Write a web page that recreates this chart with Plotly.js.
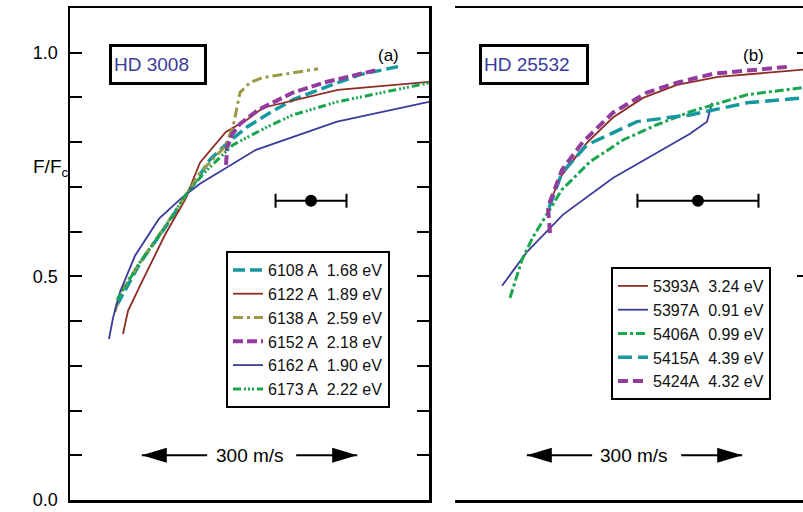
<!DOCTYPE html>
<html>
<head>
<meta charset="utf-8">
<script src="https://cdn.plot.ly/plotly-3.0.1.min.js"></script>
<style>html,body{margin:0;padding:0;background:#fff;}#chart{width:803px;height:512px;}</style>
</head>
<body>
<div id="chart"></div>
<script>
// ---- Panel (a): HD 3008 — velocity (m/s) vs F/Fc ----
const labelsA = ["6108 A\u00a0\u00a01.68 eV","6122 A\u00a0\u00a01.89 eV","6138 A\u00a0\u00a02.59 eV","6152 A\u00a0\u00a02.18 eV","6162 A\u00a0\u00a01.90 eV","6173 A\u00a0\u00a02.22 eV"];
const v6108 = [65.5, 97.5, 132.3, 157.4, 195, 220, 246.5, 278.6, 310.6, 358, 404, 456.8];
const f6108 = [0.436, 0.530, 0.609, 0.671, 0.761, 0.799, 0.834, 0.866, 0.895, 0.924, 0.951, 0.969];
const v6122 = [73.8, 80.8, 100.3, 132.3, 160.2, 181, 217, 246.5, 268.8, 373, 500];
const f6122 = [0.371, 0.423, 0.488, 0.593, 0.671, 0.754, 0.823, 0.850, 0.877, 0.917, 0.935];
const v6138 = [62.7, 69.6, 93.3, 125.4, 157.4, 181, 215.9, 227, 236.8, 250.7, 267.4, 345.4];
const f6138 = [0.421, 0.463, 0.521, 0.597, 0.671, 0.732, 0.790, 0.834, 0.911, 0.933, 0.944, 0.964];
const v6152 = [217.3, 218.7, 225.6, 236.8, 261.9, 310.6, 358, 417.8, 429];
const f6152 = [0.749, 0.787, 0.817, 0.841, 0.872, 0.911, 0.935, 0.957, 0.962];
const v6162 = [54.3, 59.9, 69.6, 90.5, 124, 156, 181, 259, 372, 500];
const f6162 = [0.360, 0.407, 0.465, 0.546, 0.629, 0.676, 0.707, 0.783, 0.846, 0.890];
const v6173 = [65.5, 97.5, 132.3, 163, 190.8, 227, 274.4, 310.6, 371.9, 441.5, 501.4];
const f6173 = [0.447, 0.532, 0.609, 0.687, 0.738, 0.794, 0.834, 0.861, 0.890, 0.913, 0.933];

// ---- Panel (b): HD 25532 ----
const labelsB = ["5393A\u00a0\u00a03.24 eV","5397A\u00a0\u00a00.91 eV","5406A\u00a0\u00a00.99 eV","5415A\u00a0\u00a04.39 eV","5424A\u00a0\u00a04.32 eV"];
const v5393 = [135.1, 149, 183.9, 220, 261.9, 309.2, 366.3, 484.7];
const f5393 = [0.678, 0.727, 0.799, 0.855, 0.899, 0.928, 0.946, 0.962];
const v5397 = [65.5, 100.3, 150.4, 220, 327.3, 351, 358];
const f5397 = [0.479, 0.555, 0.638, 0.720, 0.819, 0.846, 0.888];
const v5406 = [76.6, 93.3, 108.6, 129.5, 149, 188, 234, 281.3, 327.3, 406.7, 484.7];
const f5406 = [0.452, 0.537, 0.588, 0.644, 0.694, 0.756, 0.805, 0.839, 0.868, 0.906, 0.922];
const v5415 = [130.9, 149, 183.9, 253.5, 327.3, 406.7, 484.7];
const f5415 = [0.653, 0.732, 0.794, 0.846, 0.861, 0.888, 0.899];
const v5424 = [132.3, 129.5, 149, 178.3, 220, 267.4, 309.2, 359.3, 466.6];
const f5424 = [0.597, 0.655, 0.738, 0.801, 0.866, 0.911, 0.933, 0.953, 0.969];

// error-bar markers (centre velocity, F, half-width)
const errA = {v: [335.7], f: [0.669], half: [49.4]};
const errB = {v: [338.4], f: [0.669], half: [84.3]};
// scale arrows: tips, inner tails (m/s), label
const scaleFrom = 100, scaleTo = 400, scaleMid = 250, scaleY = 0.1;
const scaleTailL = 191, scaleTailR = 315;
const scaleLabel = "300 m/s";

const FONT = "'Liberation Sans', Arial, Helvetica, sans-serif";
const C = {cyan:'#15989f', red:'#8e2c25', olive:'#9a9a46', purple:'#923c9e', blue:'#3b3b9c', green:'#19a64e'};

function tr(x, y, name, color, dash, width, ax, leg) {
  return {x: x, y: y, name: name, type: 'scatter', mode: 'lines',
    line: {color: color, dash: dash, width: width},
    xaxis: ax === 2 ? 'x2' : 'x', yaxis: ax === 2 ? 'y2' : 'y',
    legend: leg, hoverinfo: 'skip'};
}

const data = [
  tr(v6108, f6108, labelsA[0], C.cyan, '12px,5px', 3.5, 1, 'legend'),
  tr(v6122, f6122, labelsA[1], C.red, 'solid', 1.8, 1, 'legend'),
  tr(v6138, f6138, labelsA[2], C.olive, '10px,4px,3px,4px', 3, 1, 'legend'),
  tr(v6152, f6152, labelsA[3], C.purple, '10px,4px', 4, 1, 'legend'),
  tr(v6162, f6162, labelsA[4], C.blue, 'solid', 1.8, 1, 'legend'),
  tr(v6173, f6173, labelsA[5], C.green, '8px,3px,2px,2px,2px,2px,2px,3px', 3, 1, 'legend'),
  tr(v5393, f5393, labelsB[0], C.red, 'solid', 1.8, 2, 'legend2'),
  tr(v5397, f5397, labelsB[1], C.blue, 'solid', 1.8, 2, 'legend2'),
  tr(v5406, f5406, labelsB[2], C.green, '9px,3px,3px,3px', 3, 2, 'legend2'),
  tr(v5415, f5415, labelsB[3], C.cyan, '14px,6px', 3.5, 2, 'legend2'),
  tr(v5424, f5424, labelsB[4], C.purple, '10px,5px', 4, 2, 'legend2'),
  {x: errA.v, y: errA.f, type: 'scatter', mode: 'markers', showlegend: false, hoverinfo: 'skip',
   marker: {color: 'black', size: 12},
   error_x: {type: 'data', array: errA.half, color: 'black', thickness: 2, width: 7},
   xaxis: 'x', yaxis: 'y'},
  {x: errB.v, y: errB.f, type: 'scatter', mode: 'markers', showlegend: false, hoverinfo: 'skip',
   marker: {color: 'black', size: 12},
   error_x: {type: 'data', array: errB.half, color: 'black', thickness: 2, width: 7},
   xaxis: 'x2', yaxis: 'y2'}
];

const W = 803, H = 512;
const px = v => v / W, py = v => 1 - v / H;

// scale-bar arrows drawn as shapes (shafts + pixel-sized triangular heads)
function arrowShapes(xr, yr) {
  const ln = {type: 'line', xref: xr, yref: yr, line: {color: 'black', width: 2}};
  const head = {type: 'path', xref: xr, yref: yr, xsizemode: 'pixel', ysizemode: 'pixel',
    fillcolor: 'black', line: {width: 0}};
  return [
    Object.assign({}, ln, {x0: scaleFrom, x1: scaleTailL, y0: scaleY, y1: scaleY}),
    Object.assign({}, ln, {x0: scaleTailR, x1: scaleTo, y0: scaleY, y1: scaleY}),
    Object.assign({}, head, {xanchor: scaleFrom, yanchor: scaleY, path: 'M0,0 L25,7.5 L25,-7.5 Z'}),
    Object.assign({}, head, {xanchor: scaleTo, yanchor: scaleY, path: 'M0,0 L-25,7.5 L-25,-7.5 Z'})
  ];
}
function scaleText(xr, yr) {
  return {xref: xr, yref: yr, x: scaleMid, y: scaleY, text: scaleLabel, showarrow: false,
    font: {size: 19, color: 'black', family: FONT}};
}

const legendStyle = {bgcolor: 'white', bordercolor: 'black', borderwidth: 2,
  font: {size: 16, color: '#111', family: FONT}, xanchor: 'left', yanchor: 'top', traceorder: 'normal'};

const layout = {
  width: W, height: H,
  margin: {l: 0, r: 0, t: 0, b: 0},
  paper_bgcolor: 'white', plot_bgcolor: 'white',
  font: {family: FONT, color: 'black', size: 18},
  showlegend: true,
  legend: Object.assign({}, legendStyle, {x: px(226), y: py(251)}),
  legend2: Object.assign({}, legendStyle, {x: px(611), y: py(267)}),
  xaxis: {domain: [px(70), px(429)], range: [0, 500], showline: true, mirror: true,
    linecolor: 'black', linewidth: 2.5, showticklabels: false, ticks: '', showgrid: false, zeroline: false},
  yaxis: {domain: [12 / H, 504 / H], range: [0, 1.1], showline: true, mirror: 'ticks',
    linecolor: 'black', linewidth: 2.5, ticks: 'inside', ticklen: 12, tickwidth: 2, tickcolor: 'black',
    tick0: 0, dtick: 0.5, tickformat: '.1f', ticklabelstandoff: 6,
    tickfont: {size: 18, family: FONT, color: 'black'},
    minor: {dtick: 0.1, ticks: 'inside', ticklen: 12, tickwidth: 2, tickcolor: 'black', showgrid: false},
    showgrid: false, zeroline: false},
  xaxis2: {domain: [px(455), 1], range: [0, 484.7], anchor: 'y2', showline: true, mirror: true,
    linecolor: 'black', linewidth: 2.5, showticklabels: false, ticks: '', showgrid: false, zeroline: false},
  yaxis2: {domain: [12 / H, 504 / H], range: [0, 1.1], anchor: 'x2', side: 'right', showline: false,
    ticks: 'inside', ticklen: 6, tickwidth: 2, tickcolor: 'black', tick0: 0, dtick: 0.5,
    showticklabels: false, showgrid: false, zeroline: false},
  shapes: arrowShapes('x', 'y').concat(arrowShapes('x2', 'y2')),
  annotations: [
    {xref: 'paper', yref: 'paper', x: px(109), y: py(44), xanchor: 'left', yanchor: 'top',
     text: 'HD 3008', showarrow: false, align: 'left', width: 88, height: 31,
     bordercolor: 'black', borderwidth: 3, borderpad: 2, bgcolor: 'white',
     font: {size: 19, color: '#3a3a9a', family: FONT}},
    {xref: 'paper', yref: 'paper', x: px(479), y: py(44), xanchor: 'left', yanchor: 'top',
     text: 'HD 25532', showarrow: false, align: 'left', width: 100, height: 31,
     bordercolor: 'black', borderwidth: 3, borderpad: 2, bgcolor: 'white',
     font: {size: 19, color: '#3a3a9a', family: FONT}},
    {xref: 'paper', yref: 'paper', x: px(388), y: py(44), text: '(a)', showarrow: false,
     font: {size: 17, color: 'black', family: FONT}},
    {xref: 'paper', yref: 'paper', x: px(766), y: py(44), text: '(b)', showarrow: false,
     font: {size: 17, color: 'black', family: FONT}},
    {xref: 'paper', yref: 'paper', x: px(31), y: py(154), text: 'F/F<sub>c</sub>', showarrow: false,
     font: {size: 19, color: 'black', family: FONT}},
    scaleText('x', 'y'),
    scaleText('x2', 'y2')
  ]
};

Plotly.newPlot('chart', data, layout, {staticPlot: true, displayModeBar: false});
</script>
</body>
</html>
